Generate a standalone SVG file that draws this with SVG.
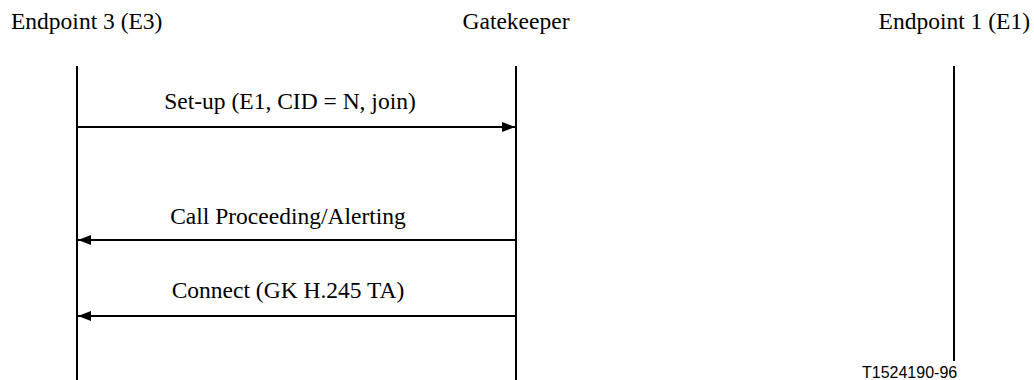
<svg xmlns="http://www.w3.org/2000/svg" width="1034" height="380" viewBox="0 0 1034 380">
<style>
.t{font-family:"Liberation Serif","Times New Roman",serif;font-size:23.5px;fill:#000}
.s{font-family:"Liberation Sans",Arial,sans-serif;font-size:16px;fill:#000}
.life{stroke:#000;stroke-width:2;fill:none}
.msg{stroke:#000;stroke-width:2;fill:none}
</style>
<defs>
<marker id="ah" viewBox="0 0 13 10" refX="13" refY="5" markerWidth="13" markerHeight="10" markerUnits="userSpaceOnUse" orient="auto">
<path d="M0,0 L13,5 L0,10 Z" fill="#000"/>
</marker>
</defs>
<g id="e3">
<text class="t" x="11" y="29">Endpoint 3 (E3)</text>
<line class="life" x1="77" y1="66" x2="77" y2="380"/>
</g>
<g id="gatekeeper">
<text class="t" x="516" y="29" text-anchor="middle">Gatekeeper</text>
<line class="life" x1="516" y1="66" x2="516" y2="380"/>
</g>
<g id="e1">
<text class="t" x="1030" y="29" text-anchor="end">Endpoint 1 (E1)</text>
<line class="life" x1="954" y1="66" x2="954" y2="361"/>
</g>
<g id="connectors">
<line class="msg" x1="77" y1="127" x2="515" y2="127" marker-end="url(#ah)"/>
<text class="t" x="290" y="109" text-anchor="middle">Set-up (E1, CID = N, join)</text>
<line class="msg" x1="516" y1="240" x2="78" y2="240" marker-end="url(#ah)"/>
<text class="t" x="288" y="224" text-anchor="middle">Call Proceeding/Alerting</text>
<line class="msg" x1="516" y1="316" x2="78" y2="316" marker-end="url(#ah)"/>
<text class="t" x="288" y="298" text-anchor="middle">Connect (GK H.245 TA)</text>
</g>
<text id="ref" class="s" x="862" y="378">T1524190-96</text>
</svg>
